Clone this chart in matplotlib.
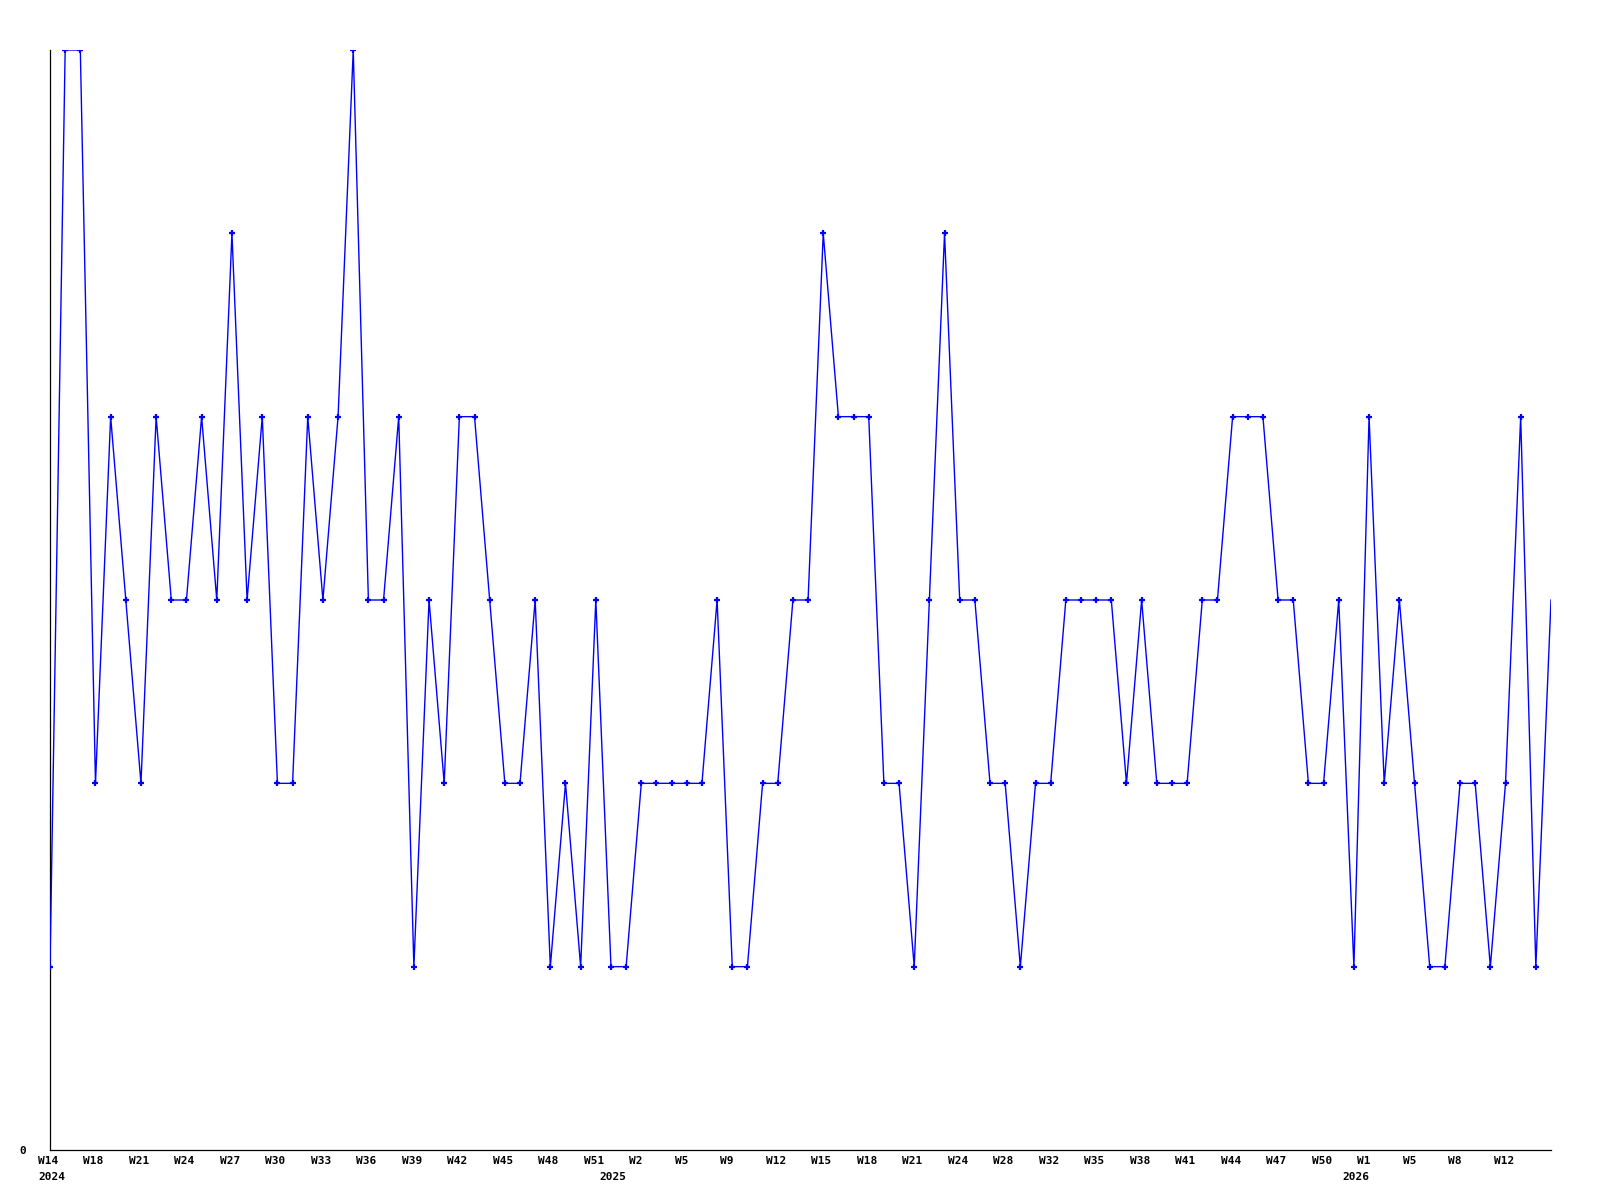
import matplotlib
matplotlib.use("Agg")
import matplotlib.pyplot as plt
from matplotlib.transforms import blended_transform_factory, ScaledTranslation

# weekly values, one per point
values = [
    1, 6, 6, 2, 4, 3, 2, 4, 3, 3,
    4, 3, 5, 3, 4, 2, 2, 4, 3, 4,
    6, 3, 3, 4, 1, 3, 2, 4, 4, 3,
    2, 2, 3, 1, 2, 1, 3, 1, 1, 2,
    2, 2, 2, 2, 3, 1, 1, 2, 2, 3,
    3, 5, 4, 4, 4, 2, 2, 1, 3, 5,
    3, 3, 2, 2, 1, 2, 2, 3, 3, 3,
    3, 2, 3, 2, 2, 2, 3, 3, 4, 4,
    4, 3, 3, 2, 2, 3, 1, 4, 2, 3,
    2, 1, 1, 2, 2, 1, 2, 4, 1, 3,
]

week_labels = [
    "W14", "W18", "W21", "W24", "W27", "W30", "W33", "W36", "W39", "W42",
    "W45", "W48", "W51", "W2", "W5", "W9", "W12", "W15", "W18", "W21",
    "W24", "W28", "W32", "W35", "W38", "W41", "W44", "W47", "W50", "W1",
    "W5", "W8", "W12",
]
year_labels = ["2024", "2025", "2026"]
year_idx = [0, 37, 86]

x = list(range(len(values)))
font = dict(family="DejaVu Sans Mono", weight="bold", size=8)

fig = plt.figure(figsize=(16, 12), dpi=100)
ax = fig.add_axes([50 / 1600, 50 / 1200, 1501 / 1600, 1100 / 1200])

# last point is drawn without a marker
ax.plot(x, values, color="#0000ff", lw=1.0, zorder=3)
ax.plot(x[:-1], values[:-1], ls="none", marker="+", ms=4, mew=1.6,
        color="#0000ff", zorder=4)

ax.set_xlim(0, len(values) - 1)
ax.set_ylim(0, 6)

for s in ("top", "right"):
    ax.spines[s].set_visible(False)
for s in ("left", "bottom"):
    ax.spines[s].set_linewidth(0.9)
    ax.spines[s].set_color("black")

ax.set_xticks([])
ax.set_yticks([0])
ax.set_yticklabels(["0"], **font)
ax.tick_params(axis="y", length=0, pad=17)

# labels start a little left of their point
shift = ScaledTranslation(-12 / 100, 0, fig.dpi_scale_trans)
trans = blended_transform_factory(ax.transData, ax.transAxes) + shift
for lab, pos in zip(week_labels, x[::3]):
    ax.text(pos, -11 / 1100, lab, transform=trans, ha="left", va="center",
            clip_on=False, **font)
for lab, pos in zip(year_labels, year_idx):
    ax.text(pos, -26.5 / 1100, lab, transform=trans, ha="left", va="center",
            clip_on=False, **font)

fig.savefig("out.png", dpi=100)
